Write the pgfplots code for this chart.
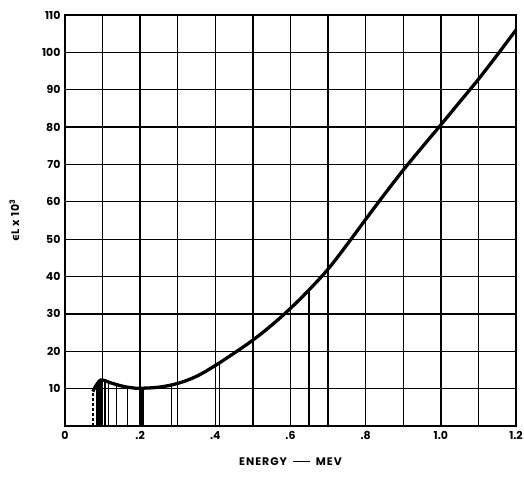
\documentclass[border=0pt]{standalone}
\usepackage{pgfplots}
\pgfplotsset{compat=1.18}
\usepackage{fontspec}
\setmainfont{Poppins}
\newfontfamily\dv{DejaVu Sans}
\newfontfamily\lab[LetterSpace=9]{Poppins}
\begin{document}
\begin{tikzpicture}
\begin{axis}[
  scale only axis,
  width=451bp, height=411bp,
  xmin=0, xmax=1.2, ymin=0, ymax=110,
  xtick={0,0.2,...,1.21},
  xticklabels={0,.2,.4,.6,.8,1.0,1.2},
  minor xtick={0.1,0.3,...,1.15},
  ytick={10,20,...,110},
  grid=both,
  major grid style={black, line width=1.35pt},
  minor grid style={black, line width=1.35pt},
  axis line style={line width=2pt},
  major tick length=0pt, minor tick length=0pt,
  tick label style={font=\fontsize{11}{12}\selectfont\bfseries},
  /pgf/number format/assume math mode=true,
  xticklabel style={yshift=-2pt},
  yticklabel style={xshift=-1pt},
  xlabel={ENERGY\hspace{6pt}\raisebox{3.2pt}{\rule{17pt}{1.6pt}}\hspace{6pt}MEV},
  xlabel style={font=\lab\fontsize{11}{12}\selectfont\bfseries, yshift=-11pt},
  ylabel={{\dv\bfseries ϵ}L x 10\textsuperscript{3}},
  ylabel style={font=\lab\fontsize{11}{12}\selectfont\bfseries, yshift=16pt},
  clip=false,
]
\coordinate (sw) at (rel axis cs:0,0);
\coordinate (ne) at (rel axis cs:1,1);
\addplot[black, line width=3.3pt, smooth, tension=0.6] coordinates {
(0.074,9.2) (0.08,10.4) (0.085,11.2) (0.09,11.9) (0.095,12.3) (0.10,12.3)
(0.11,12.0) (0.12,11.6) (0.14,11.0) (0.16,10.5) (0.18,10.2) (0.20,10.1)
(0.25,10.4) (0.30,11.4) (0.35,13.3) (0.40,16.2) (0.45,19.5) (0.50,23.0)
(0.55,27.0) (0.60,31.5) (0.65,36.5) (0.70,42.0) (0.75,48.5) (0.80,55.3)
(0.85,62.0) (0.90,68.5) (0.95,74.6) (1.00,80.6) (1.05,86.7) (1.10,92.8)
(1.15,99.3) (1.20,106)
};
\addplot[ycomb, black, line width=1.7pt, dashed, dash pattern=on 3pt off 2pt, mark=none] coordinates {(0.074,9.2)};
\addplot[ycomb, black, line width=1.7pt, mark=none] coordinates {
(0.085,11.0) (0.091,11.9) (0.106,12.2) (0.116,11.8) (0.137,11.1)
(0.166,10.4) (0.283,11.0) (0.411,16.9) (0.65,36.5)
};
\addplot[ycomb, black, line width=2.6pt, mark=none] coordinates {
(0.097,12.3) (0.206,10.1)
};
\end{axis}
\pgfresetboundingbox
\path ([shift={(-65bp,-55bp)}]sw) rectangle ([shift={(8bp,15bp)}]ne);
\end{tikzpicture}
\end{document}
